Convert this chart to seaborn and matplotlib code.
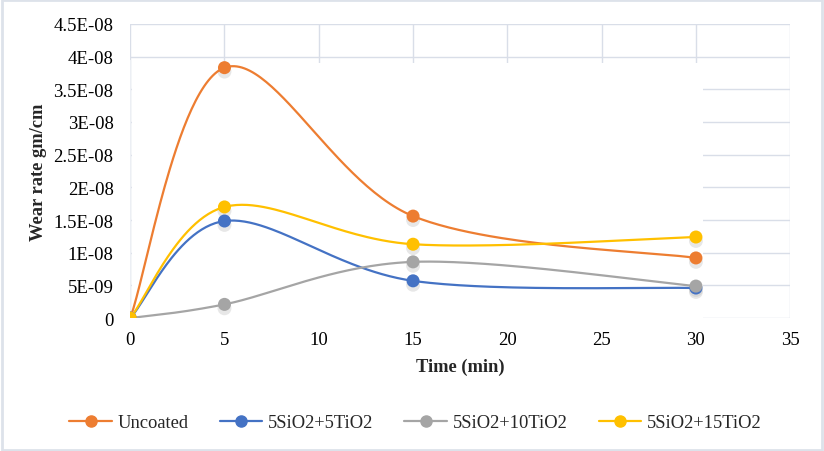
import numpy as np
import pandas as pd
import matplotlib
matplotlib.use("Agg")
import matplotlib.pyplot as plt
from matplotlib.patches import Rectangle
import seaborn as sns

# data
time_min = [0, 5, 15, 30]
uncoated = [0.0, 3.83e-8, 1.56e-8, 0.92e-8]
sio2_5tio2 = [0.0, 1.485e-8, 0.57e-8, 0.46e-8]
sio2_10tio2 = [0.0, 0.21e-8, 0.86e-8, 0.49e-8]
sio2_15tio2 = [0.0, 1.70e-8, 1.13e-8, 1.24e-8]

series_names = ["Uncoated", "5SiO2+5TiO2", "5SiO2+10TiO2", "5SiO2+15TiO2"]
series_values = [uncoated, sio2_5tio2, sio2_10tio2, sio2_15tio2]
colors = ["#ED7D31", "#4472C4", "#A5A5A5", "#FFC000"]

y_ticks = [0, 5e-9, 1e-8, 1.5e-8, 2e-8, 2.5e-8, 3e-8, 3.5e-8, 4e-8, 4.5e-8]
y_tick_labels = ["0", "5E-09", "1E-08", "1.5E-08", "2E-08", "2.5E-08",
                 "3E-08", "3.5E-08", "4E-08", "4.5E-08"]
x_ticks = [0, 5, 10, 15, 20, 25, 30, 35]


def smooth(xs, ys, xscale, yscale, n=60):
    # Excel-like smoothed line: Catmull-Rom style bezier in screen-ish space
    p = np.column_stack([np.asarray(xs, float) / xscale, np.asarray(ys, float) / yscale])
    out = []
    for i in range(len(p) - 1):
        p0 = p[i - 1] if i > 0 else p[i]
        p1, p2 = p[i], p[i + 1]
        p3 = p[i + 2] if i + 2 < len(p) else p[i + 1]
        c1 = p1 + (p2 - p0) / 6
        c2 = p2 - (p3 - p1) / 6
        t = np.linspace(0, 1, n)[:, None]
        seg = ((1 - t) ** 3) * p1 + 3 * ((1 - t) ** 2) * t * c1 + 3 * (1 - t) * t ** 2 * c2 + t ** 3 * p2
        out.append(seg if i == 0 else seg[1:])
    out = np.vstack(out)
    return out[:, 0] * xscale, out[:, 1] * yscale


sns.set_theme(style="white")
plt.rcParams["font.family"] = ["Liberation Serif", "DejaVu Serif"]

fig = plt.figure(figsize=(8.24, 4.52), dpi=100)
fig.patch.set_facecolor("white")
ax = fig.add_axes([0.158, 0.294, 0.801, 0.651])

grid_c = "#D9DEE8"
for yv in y_ticks:
    ax.axhline(yv, color=grid_c, lw=1.0, zorder=0)
for xv in x_ticks:
    ax.axvline(xv, color=grid_c, lw=1.0, zorder=0)
# white plot patch hiding most of the grid, as in the original
ax.add_patch(Rectangle((0.08, -1e-9), 30.3, 3.9e-8 + 1e-9, facecolor="white",
                       edgecolor="none", zorder=1))
ax.plot([0, 0], [0, 3.95e-8], color="#ECEFF4", lw=1.0, zorder=1.5)

rows = []
pts = []
for name, vals in zip(series_names, series_values):
    sx, sy = smooth(time_min, vals, 35.0, 4.5e-8 * 35.0 / 65.0 * 1.3)
    rows.append(pd.DataFrame({"time": sx, "wear": sy, "series": name}))
    pts.append(pd.DataFrame({"time": time_min, "wear": vals, "series": name}))
curves = pd.concat(rows, ignore_index=True)
points = pd.concat(pts, ignore_index=True)
palette = dict(zip(series_names, colors))

# soft shadows under markers
sns.scatterplot(data=points.assign(wear=points["wear"] - 0.06e-8), x="time", y="wear",
                color="#BBBBBB", s=100, alpha=0.35, edgecolor="none",
                legend=False, ax=ax, zorder=2)
sns.lineplot(data=curves, x="time", y="wear", hue="series", palette=palette,
             hue_order=series_names, sort=False, lw=1.6, legend=False, ax=ax, zorder=3)
sns.scatterplot(data=points, x="time", y="wear", hue="series", palette=palette,
                hue_order=series_names, s=88, edgecolor="none", legend=False,
                ax=ax, zorder=4)

ax.set_xlim(0, 35)
ax.set_ylim(0, 4.5e-8)
ax.set_xticks(x_ticks)
ax.set_xticklabels([str(v) for v in x_ticks])
ax.set_yticks(y_ticks)
ax.set_yticklabels(y_tick_labels)
ax.tick_params(axis="both", labelsize=13.5, length=0, colors="black")
ax.tick_params(axis="x", pad=9)
ax.tick_params(axis="y", pad=12)
for s in ax.spines.values():
    s.set_visible(False)
ax.set_facecolor("none")
ax.set_xlabel("Time (min)", fontsize=13.3, fontweight="bold", labelpad=7)
ax.set_ylabel("Wear rate gm/cm", fontsize=13.3, fontweight="bold", labelpad=5)

handles = [plt.Line2D([0], [0], color=c, lw=1.6, marker="o", markersize=8)
           for c in colors]
fig.legend(handles, series_names, loc="center", bbox_to_anchor=(0.504, 0.062),
           ncol=4, frameon=False, fontsize=13.3, handlelength=2.3,
           handletextpad=0.3, columnspacing=1.7)

fig.add_artist(Rectangle((0.002, 0.003), 0.996, 0.994, transform=fig.transFigure,
                         facecolor="none", edgecolor="#DDE2EA", lw=2.0))

fig.savefig("out.png", dpi=100)
